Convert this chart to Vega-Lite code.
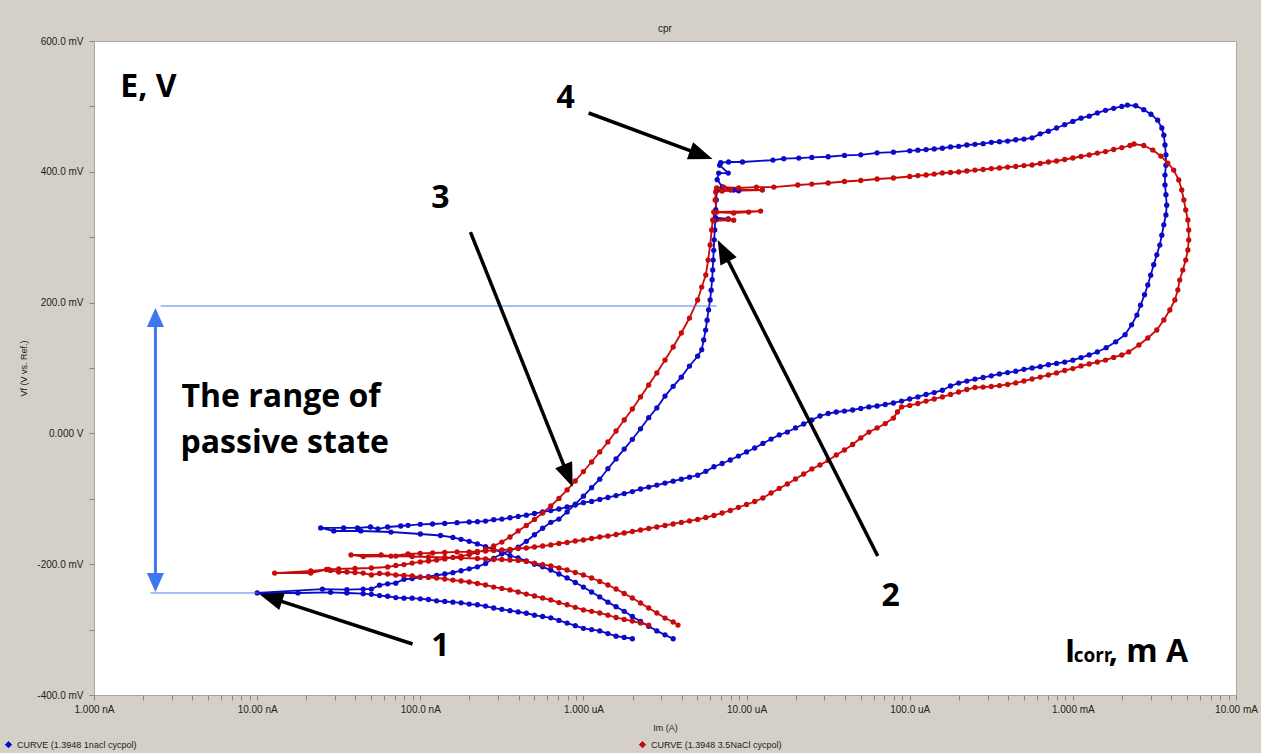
{
  "$schema": "https://vega.github.io/schema/vega-lite/v6.json",
  "width": 1142,
  "height": 654,
  "autosize": {"type": "none"},
  "padding": {"left": 94, "top": 41, "right": 25, "bottom": 58},
  "background": "#D4D0C8",
  "title": {"text": "cpr", "font": "Liberation Sans", "fontSize": 10, "fontWeight": "normal", "color": "#222222", "offset": 2},
  "config": {
    "view": {"fill": "#FFFFFF", "stroke": "#ABA79F", "strokeWidth": 1},
    "font": "Liberation Sans"
  },
  "datasets": {
    "curves": [
      {"s":"1nacl","I":1.995e-6,"E":-0.314},{"s":"1nacl","I":1.778e-6,"E":-0.312},{"s":"1nacl","I":1.585e-6,"E":-0.310},{"s":"1nacl","I":1.413e-6,"E":-0.306},{"s":"1nacl","I":1.259e-6,"E":-0.302},{"s":"1nacl","I":1.122e-6,"E":-0.300},{"s":"1nacl","I":1.0e-6,"E":-0.298},{"s":"1nacl","I":8.913e-7,"E":-0.294},{"s":"1nacl","I":7.943e-7,"E":-0.290},{"s":"1nacl","I":7.079e-7,"E":-0.286},{"s":"1nacl","I":6.31e-7,"E":-0.282},{"s":"1nacl","I":5.623e-7,"E":-0.280},{"s":"1nacl","I":5.012e-7,"E":-0.278},{"s":"1nacl","I":4.467e-7,"E":-0.275},{"s":"1nacl","I":3.981e-7,"E":-0.273},{"s":"1nacl","I":3.548e-7,"E":-0.271},{"s":"1nacl","I":3.162e-7,"E":-0.269},{"s":"1nacl","I":2.818e-7,"E":-0.267},{"s":"1nacl","I":2.512e-7,"E":-0.264},{"s":"1nacl","I":2.239e-7,"E":-0.262},{"s":"1nacl","I":1.995e-7,"E":-0.261},{"s":"1nacl","I":1.778e-7,"E":-0.259},{"s":"1nacl","I":1.585e-7,"E":-0.258},{"s":"1nacl","I":1.413e-7,"E":-0.257},{"s":"1nacl","I":1.259e-7,"E":-0.256},{"s":"1nacl","I":1.122e-7,"E":-0.254},{"s":"1nacl","I":1.0e-7,"E":-0.253},{"s":"1nacl","I":8.913e-8,"E":-0.252},{"s":"1nacl","I":7.943e-8,"E":-0.252},{"s":"1nacl","I":7.079e-8,"E":-0.251},{"s":"1nacl","I":6.31e-8,"E":-0.249},{"s":"1nacl","I":5.623e-8,"E":-0.248},{"s":"1nacl","I":5.012e-8,"E":-0.246},{"s":"1nacl","I":4.467e-8,"E":-0.245},{"s":"1nacl","I":3.548e-8,"E":-0.244},{"s":"1nacl","I":2.818e-8,"E":-0.243},{"s":"1nacl","I":1.778e-8,"E":-0.244},{"s":"1nacl","I":1.0e-8,"E":-0.244},
      {"s":"1nacl","I":2.512e-8,"E":-0.238},{"s":"1nacl","I":3.548e-8,"E":-0.239},{"s":"1nacl","I":4.467e-8,"E":-0.238},{"s":"1nacl","I":5.012e-8,"E":-0.238},{"s":"1nacl","I":5.623e-8,"E":-0.232},{"s":"1nacl","I":6.31e-8,"E":-0.230},{"s":"1nacl","I":7.079e-8,"E":-0.229},
      {"s":"1nacl","I":7.943e-8,"E":-0.223},{"s":"1nacl","I":8.913e-8,"E":-0.222},{"s":"1nacl","I":1.0e-7,"E":-0.220},{"s":"1nacl","I":1.122e-7,"E":-0.219},{"s":"1nacl","I":1.259e-7,"E":-0.217},{"s":"1nacl","I":1.413e-7,"E":-0.215},{"s":"1nacl","I":1.585e-7,"E":-0.213},{"s":"1nacl","I":1.778e-7,"E":-0.210},{"s":"1nacl","I":1.995e-7,"E":-0.207},{"s":"1nacl","I":2.239e-7,"E":-0.204},{"s":"1nacl","I":2.512e-7,"E":-0.199},{"s":"1nacl","I":2.818e-7,"E":-0.191},{"s":"1nacl","I":3.162e-7,"E":-0.184},{"s":"1nacl","I":3.548e-7,"E":-0.179},{"s":"1nacl","I":3.981e-7,"E":-0.174},{"s":"1nacl","I":4.467e-7,"E":-0.165},{"s":"1nacl","I":5.012e-7,"E":-0.155},{"s":"1nacl","I":5.623e-7,"E":-0.145},{"s":"1nacl","I":6.31e-7,"E":-0.136},{"s":"1nacl","I":7.079e-7,"E":-0.131},{"s":"1nacl","I":7.943e-7,"E":-0.120},{"s":"1nacl","I":8.913e-7,"E":-0.108},{"s":"1nacl","I":1.0e-6,"E":-0.096},{"s":"1nacl","I":1.122e-6,"E":-0.083},{"s":"1nacl","I":1.259e-6,"E":-0.070},{"s":"1nacl","I":1.413e-6,"E":-0.054},{"s":"1nacl","I":1.585e-6,"E":-0.039},{"s":"1nacl","I":1.778e-6,"E":-0.024},{"s":"1nacl","I":1.995e-6,"E":-0.009},{"s":"1nacl","I":2.239e-6,"E":0.007},{"s":"1nacl","I":2.512e-6,"E":0.024},{"s":"1nacl","I":2.818e-6,"E":0.039},{"s":"1nacl","I":3.162e-6,"E":0.057},{"s":"1nacl","I":3.548e-6,"E":0.072},{"s":"1nacl","I":3.981e-6,"E":0.086},{"s":"1nacl","I":4.467e-6,"E":0.103},{"s":"1nacl","I":5.012e-6,"E":0.118},
      {"s":"1nacl","I":5.31e-6,"E":0.128},{"s":"1nacl","I":5.46e-6,"E":0.143},{"s":"1nacl","I":5.61e-6,"E":0.158},{"s":"1nacl","I":5.73e-6,"E":0.173},{"s":"1nacl","I":5.85e-6,"E":0.189},{"s":"1nacl","I":5.98e-6,"E":0.204},{"s":"1nacl","I":6.07e-6,"E":0.219},{"s":"1nacl","I":6.15e-6,"E":0.235},{"s":"1nacl","I":6.2e-6,"E":0.250},{"s":"1nacl","I":6.24e-6,"E":0.265},{"s":"1nacl","I":6.29e-6,"E":0.280},{"s":"1nacl","I":6.33e-6,"E":0.296},{"s":"1nacl","I":6.38e-6,"E":0.311},{"s":"1nacl","I":6.42e-6,"E":0.326},{"s":"1nacl","I":7.72e-6,"E":0.328},{"s":"1nacl","I":6.45e-6,"E":0.330},{"s":"1nacl","I":6.47e-6,"E":0.342},{"s":"1nacl","I":6.52e-6,"E":0.357},{"s":"1nacl","I":6.56e-6,"E":0.372},{"s":"1nacl","I":8.34e-6,"E":0.372},{"s":"1nacl","I":8.94e-6,"E":0.371},{"s":"1nacl","I":7.1e-6,"E":0.377},{"s":"1nacl","I":6.61e-6,"E":0.388},{"s":"1nacl","I":6.75e-6,"E":0.398},{"s":"1nacl","I":7.72e-6,"E":0.398},{"s":"1nacl","I":6.84e-6,"E":0.410},{"s":"1nacl","I":6.94e-6,"E":0.414},
      {"s":"1nacl","I":7.76e-6,"E":0.415},{"s":"1nacl","I":9.44e-6,"E":0.415},{"s":"1nacl","I":1.45e-5,"E":0.418},{"s":"1nacl","I":1.69e-5,"E":0.420},{"s":"1nacl","I":2.09e-5,"E":0.421},{"s":"1nacl","I":2.512e-5,"E":0.422},{"s":"1nacl","I":3.162e-5,"E":0.423},{"s":"1nacl","I":3.981e-5,"E":0.425},{"s":"1nacl","I":5.012e-5,"E":0.426},{"s":"1nacl","I":6.31e-5,"E":0.429},{"s":"1nacl","I":7.943e-5,"E":0.430},{"s":"1nacl","I":1.0e-4,"E":0.432},{"s":"1nacl","I":1.122e-4,"E":0.433},{"s":"1nacl","I":1.259e-4,"E":0.434},{"s":"1nacl","I":1.413e-4,"E":0.435},{"s":"1nacl","I":1.585e-4,"E":0.436},{"s":"1nacl","I":1.778e-4,"E":0.438},{"s":"1nacl","I":1.995e-4,"E":0.439},{"s":"1nacl","I":2.239e-4,"E":0.441},{"s":"1nacl","I":2.512e-4,"E":0.442},{"s":"1nacl","I":2.818e-4,"E":0.443},{"s":"1nacl","I":3.162e-4,"E":0.445},{"s":"1nacl","I":3.548e-4,"E":0.446},{"s":"1nacl","I":3.981e-4,"E":0.447},{"s":"1nacl","I":4.467e-4,"E":0.449},{"s":"1nacl","I":5.012e-4,"E":0.450},{"s":"1nacl","I":5.623e-4,"E":0.452},{"s":"1nacl","I":6.31e-4,"E":0.458},{"s":"1nacl","I":7.079e-4,"E":0.462},{"s":"1nacl","I":7.943e-4,"E":0.467},{"s":"1nacl","I":8.913e-4,"E":0.472},{"s":"1nacl","I":1.0e-3,"E":0.477},{"s":"1nacl","I":1.122e-3,"E":0.482},{"s":"1nacl","I":1.259e-3,"E":0.485},{"s":"1nacl","I":1.413e-3,"E":0.490},{"s":"1nacl","I":1.585e-3,"E":0.494},{"s":"1nacl","I":1.778e-3,"E":0.497},{"s":"1nacl","I":1.995e-3,"E":0.500},{"s":"1nacl","I":2.16e-3,"E":0.502},
      {"s":"1nacl","I":2.43e-3,"E":0.501},{"s":"1nacl","I":2.72e-3,"E":0.495},{"s":"1nacl","I":3.01e-3,"E":0.488},{"s":"1nacl","I":3.31e-3,"E":0.479},{"s":"1nacl","I":3.51e-3,"E":0.467},{"s":"1nacl","I":3.61e-3,"E":0.456},{"s":"1nacl","I":3.67e-3,"E":0.441},{"s":"1nacl","I":3.72e-3,"E":0.426},{"s":"1nacl","I":3.72e-3,"E":0.410},{"s":"1nacl","I":3.67e-3,"E":0.395},{"s":"1nacl","I":3.67e-3,"E":0.380},{"s":"1nacl","I":3.72e-3,"E":0.365},{"s":"1nacl","I":3.76e-3,"E":0.349},{"s":"1nacl","I":3.72e-3,"E":0.334},{"s":"1nacl","I":3.61e-3,"E":0.319},{"s":"1nacl","I":3.51e-3,"E":0.303},{"s":"1nacl","I":3.41e-3,"E":0.288},{"s":"1nacl","I":3.27e-3,"E":0.273},{"s":"1nacl","I":3.13e-3,"E":0.258},{"s":"1nacl","I":3.0e-3,"E":0.242},{"s":"1nacl","I":2.88e-3,"E":0.227},{"s":"1nacl","I":2.75e-3,"E":0.212},{"s":"1nacl","I":2.6e-3,"E":0.196},{"s":"1nacl","I":2.47e-3,"E":0.181},{"s":"1nacl","I":2.29e-3,"E":0.166},{"s":"1nacl","I":2.09e-3,"E":0.151},{"s":"1nacl","I":1.83e-3,"E":0.140},{"s":"1nacl","I":1.6e-3,"E":0.131},
      {"s":"1nacl","I":1.413e-3,"E":0.1245},{"s":"1nacl","I":1.259e-3,"E":0.120},{"s":"1nacl","I":1.122e-3,"E":0.116},{"s":"1nacl","I":1.0e-3,"E":0.112},{"s":"1nacl","I":8.913e-4,"E":0.109},{"s":"1nacl","I":7.943e-4,"E":0.107},{"s":"1nacl","I":7.079e-4,"E":0.105},{"s":"1nacl","I":6.31e-4,"E":0.102},{"s":"1nacl","I":5.623e-4,"E":0.100},{"s":"1nacl","I":5.012e-4,"E":0.098},{"s":"1nacl","I":4.467e-4,"E":0.095},{"s":"1nacl","I":3.981e-4,"E":0.093},{"s":"1nacl","I":3.548e-4,"E":0.091},{"s":"1nacl","I":3.162e-4,"E":0.088},{"s":"1nacl","I":2.818e-4,"E":0.0855},{"s":"1nacl","I":2.512e-4,"E":0.083},{"s":"1nacl","I":2.239e-4,"E":0.080},{"s":"1nacl","I":1.995e-4,"E":0.077},{"s":"1nacl","I":1.778e-4,"E":0.0725},{"s":"1nacl","I":1.585e-4,"E":0.066},{"s":"1nacl","I":1.413e-4,"E":0.0625},{"s":"1nacl","I":1.259e-4,"E":0.0595},{"s":"1nacl","I":1.122e-4,"E":0.0557},{"s":"1nacl","I":1.0e-4,"E":0.0526},{"s":"1nacl","I":8.913e-5,"E":0.0495},{"s":"1nacl","I":7.943e-5,"E":0.0465},{"s":"1nacl","I":7.079e-5,"E":0.0442},{"s":"1nacl","I":6.31e-5,"E":0.0419},{"s":"1nacl","I":5.623e-5,"E":0.0404},{"s":"1nacl","I":5.012e-5,"E":0.0381},{"s":"1nacl","I":4.467e-5,"E":0.0358},{"s":"1nacl","I":3.981e-5,"E":0.0342},{"s":"1nacl","I":3.548e-5,"E":0.0327},{"s":"1nacl","I":3.162e-5,"E":0.0304},{"s":"1nacl","I":2.818e-5,"E":0.0266},{"s":"1nacl","I":2.512e-5,"E":0.0205},{"s":"1nacl","I":2.239e-5,"E":0.0144},{"s":"1nacl","I":1.995e-5,"E":0.0083},{"s":"1nacl","I":1.778e-5,"E":0.0021},{"s":"1nacl","I":1.585e-5,"E":-0.0024},{"s":"1nacl","I":1.413e-5,"E":-0.0086},{"s":"1nacl","I":1.259e-5,"E":-0.0154},{"s":"1nacl","I":1.122e-5,"E":-0.0223},{"s":"1nacl","I":1.0e-5,"E":-0.0284},{"s":"1nacl","I":8.913e-6,"E":-0.0346},{"s":"1nacl","I":7.943e-6,"E":-0.0407},{"s":"1nacl","I":7.079e-6,"E":-0.046},{"s":"1nacl","I":6.31e-6,"E":-0.051},{"s":"1nacl","I":5.623e-6,"E":-0.058},{"s":"1nacl","I":5.012e-6,"E":-0.064},{"s":"1nacl","I":4.467e-6,"E":-0.067},{"s":"1nacl","I":3.981e-6,"E":-0.070},{"s":"1nacl","I":3.548e-6,"E":-0.073},{"s":"1nacl","I":3.162e-6,"E":-0.076},{"s":"1nacl","I":2.818e-6,"E":-0.079},{"s":"1nacl","I":2.512e-6,"E":-0.082},{"s":"1nacl","I":2.239e-6,"E":-0.085},{"s":"1nacl","I":1.995e-6,"E":-0.089},{"s":"1nacl","I":1.778e-6,"E":-0.092},{"s":"1nacl","I":1.585e-6,"E":-0.095},{"s":"1nacl","I":1.413e-6,"E":-0.098},{"s":"1nacl","I":1.259e-6,"E":-0.101},{"s":"1nacl","I":1.122e-6,"E":-0.104},{"s":"1nacl","I":1.0e-6,"E":-0.106},{"s":"1nacl","I":8.913e-7,"E":-0.1095},{"s":"1nacl","I":7.943e-7,"E":-0.1125},{"s":"1nacl","I":7.079e-7,"E":-0.1156},{"s":"1nacl","I":6.31e-7,"E":-0.118},{"s":"1nacl","I":5.623e-7,"E":-0.120},{"s":"1nacl","I":5.012e-7,"E":-0.1225},{"s":"1nacl","I":4.467e-7,"E":-0.125},{"s":"1nacl","I":3.981e-7,"E":-0.127},{"s":"1nacl","I":3.548e-7,"E":-0.129},{"s":"1nacl","I":3.162e-7,"E":-0.131},{"s":"1nacl","I":2.818e-7,"E":-0.132},{"s":"1nacl","I":2.512e-7,"E":-0.134},{"s":"1nacl","I":2.239e-7,"E":-0.135},{"s":"1nacl","I":1.995e-7,"E":-0.1355},{"s":"1nacl","I":1.679e-7,"E":-0.1365},{"s":"1nacl","I":1.413e-7,"E":-0.1377},{"s":"1nacl","I":1.189e-7,"E":-0.1385},{"s":"1nacl","I":1.0e-7,"E":-0.139},{"s":"1nacl","I":8.41e-8,"E":-0.1405},{"s":"1nacl","I":7.59e-8,"E":-0.1416},{"s":"1nacl","I":6.31e-8,"E":-0.1431},{"s":"1nacl","I":5.5e-8,"E":-0.1462},{"s":"1nacl","I":4.95e-8,"E":-0.1431},{"s":"1nacl","I":4.12e-8,"E":-0.1446},{"s":"1nacl","I":3.39e-8,"E":-0.1446},{"s":"1nacl","I":2.45e-8,"E":-0.1446},
      {"s":"1nacl","I":2.95e-8,"E":-0.1492},{"s":"1nacl","I":4.32e-8,"E":-0.1492},{"s":"1nacl","I":6.61e-8,"E":-0.1508},{"s":"1nacl","I":1.0e-7,"E":-0.1538},{"s":"1nacl","I":1.33e-7,"E":-0.1561},{"s":"1nacl","I":1.585e-7,"E":-0.159},{"s":"1nacl","I":1.778e-7,"E":-0.162},{"s":"1nacl","I":1.995e-7,"E":-0.165},{"s":"1nacl","I":2.239e-7,"E":-0.169},{"s":"1nacl","I":2.512e-7,"E":-0.173},{"s":"1nacl","I":2.818e-7,"E":-0.1775},{"s":"1nacl","I":3.162e-7,"E":-0.182},{"s":"1nacl","I":3.548e-7,"E":-0.187},{"s":"1nacl","I":3.981e-7,"E":-0.1905},{"s":"1nacl","I":4.467e-7,"E":-0.195},{"s":"1nacl","I":5.012e-7,"E":-0.200},{"s":"1nacl","I":5.623e-7,"E":-0.204},{"s":"1nacl","I":6.31e-7,"E":-0.209},{"s":"1nacl","I":7.079e-7,"E":-0.215},{"s":"1nacl","I":7.943e-7,"E":-0.221},{"s":"1nacl","I":8.913e-7,"E":-0.228},{"s":"1nacl","I":1.0e-6,"E":-0.235},{"s":"1nacl","I":1.122e-6,"E":-0.2425},{"s":"1nacl","I":1.259e-6,"E":-0.250},{"s":"1nacl","I":1.413e-6,"E":-0.258},{"s":"1nacl","I":1.585e-6,"E":-0.265},{"s":"1nacl","I":1.778e-6,"E":-0.272},{"s":"1nacl","I":1.995e-6,"E":-0.280},{"s":"1nacl","I":2.239e-6,"E":-0.2876},{"s":"1nacl","I":2.512e-6,"E":-0.295},{"s":"1nacl","I":2.818e-6,"E":-0.302},{"s":"1nacl","I":3.162e-6,"E":-0.308},{"s":"1nacl","I":3.548e-6,"E":-0.314},

      {"s":"3.5NaCl","I":2.512e-6,"E":-0.293},{"s":"3.5NaCl","I":2.239e-6,"E":-0.290},{"s":"3.5NaCl","I":1.995e-6,"E":-0.287},{"s":"3.5NaCl","I":1.778e-6,"E":-0.2845},{"s":"3.5NaCl","I":1.585e-6,"E":-0.2815},{"s":"3.5NaCl","I":1.413e-6,"E":-0.278},{"s":"3.5NaCl","I":1.259e-6,"E":-0.2746},{"s":"3.5NaCl","I":1.122e-6,"E":-0.272},{"s":"3.5NaCl","I":1.0e-6,"E":-0.270},{"s":"3.5NaCl","I":8.913e-7,"E":-0.266},{"s":"3.5NaCl","I":7.943e-7,"E":-0.262},{"s":"3.5NaCl","I":7.079e-7,"E":-0.2586},{"s":"3.5NaCl","I":6.31e-7,"E":-0.2547},{"s":"3.5NaCl","I":5.623e-7,"E":-0.2517},{"s":"3.5NaCl","I":5.012e-7,"E":-0.2486},{"s":"3.5NaCl","I":4.467e-7,"E":-0.2456},{"s":"3.5NaCl","I":3.981e-7,"E":-0.2425},{"s":"3.5NaCl","I":3.548e-7,"E":-0.2394},{"s":"3.5NaCl","I":3.162e-7,"E":-0.2371},{"s":"3.5NaCl","I":2.818e-7,"E":-0.2349},{"s":"3.5NaCl","I":2.512e-7,"E":-0.2318},{"s":"3.5NaCl","I":2.239e-7,"E":-0.2295},{"s":"3.5NaCl","I":1.995e-7,"E":-0.2272},{"s":"3.5NaCl","I":1.778e-7,"E":-0.2257},{"s":"3.5NaCl","I":1.585e-7,"E":-0.2242},{"s":"3.5NaCl","I":1.413e-7,"E":-0.2226},{"s":"3.5NaCl","I":1.259e-7,"E":-0.2211},{"s":"3.5NaCl","I":1.122e-7,"E":-0.2203},{"s":"3.5NaCl","I":1.0e-7,"E":-0.2196},{"s":"3.5NaCl","I":8.913e-8,"E":-0.218},{"s":"3.5NaCl","I":7.943e-8,"E":-0.2173},{"s":"3.5NaCl","I":7.079e-8,"E":-0.2165},{"s":"3.5NaCl","I":6.31e-8,"E":-0.215},{"s":"3.5NaCl","I":5.623e-8,"E":-0.2142},{"s":"3.5NaCl","I":5.012e-8,"E":-0.2165},{"s":"3.5NaCl","I":4.467e-8,"E":-0.2135},{"s":"3.5NaCl","I":3.981e-8,"E":-0.2127},{"s":"3.5NaCl","I":3.548e-8,"E":-0.2119},{"s":"3.5NaCl","I":3.162e-8,"E":-0.2119},{"s":"3.5NaCl","I":2.818e-8,"E":-0.2096},{"s":"3.5NaCl","I":2.66e-8,"E":-0.2081},{"s":"3.5NaCl","I":2.13e-8,"E":-0.2135},{"s":"3.5NaCl","I":1.28e-8,"E":-0.2135},{"s":"3.5NaCl","I":2.13e-8,"E":-0.2104},{"s":"3.5NaCl","I":2.74e-8,"E":-0.2081},
      {"s":"3.5NaCl","I":3.162e-8,"E":-0.2073},{"s":"3.5NaCl","I":3.981e-8,"E":-0.2066},{"s":"3.5NaCl","I":5.012e-8,"E":-0.2058},{"s":"3.5NaCl","I":6.31e-8,"E":-0.2043},{"s":"3.5NaCl","I":7.079e-8,"E":-0.202},{"s":"3.5NaCl","I":7.943e-8,"E":-0.2005},{"s":"3.5NaCl","I":8.913e-8,"E":-0.1982},{"s":"3.5NaCl","I":1.0e-7,"E":-0.1966},{"s":"3.5NaCl","I":1.122e-7,"E":-0.1951},{"s":"3.5NaCl","I":1.259e-7,"E":-0.1936},{"s":"3.5NaCl","I":1.413e-7,"E":-0.192},{"s":"3.5NaCl","I":1.585e-7,"E":-0.1897},{"s":"3.5NaCl","I":1.778e-7,"E":-0.1875},{"s":"3.5NaCl","I":1.995e-7,"E":-0.1852},{"s":"3.5NaCl","I":2.239e-7,"E":-0.1821},{"s":"3.5NaCl","I":2.512e-7,"E":-0.1775},{"s":"3.5NaCl","I":2.818e-7,"E":-0.1722},{"s":"3.5NaCl","I":3.162e-7,"E":-0.1661},{"s":"3.5NaCl","I":3.548e-7,"E":-0.1584},{"s":"3.5NaCl","I":3.981e-7,"E":-0.1492},{"s":"3.5NaCl","I":4.467e-7,"E":-0.1408},{"s":"3.5NaCl","I":5.012e-7,"E":-0.1316},{"s":"3.5NaCl","I":5.623e-7,"E":-0.1217},{"s":"3.5NaCl","I":6.31e-7,"E":-0.111},{"s":"3.5NaCl","I":7.079e-7,"E":-0.0995},{"s":"3.5NaCl","I":7.943e-7,"E":-0.0865},{"s":"3.5NaCl","I":8.913e-7,"E":-0.0728},{"s":"3.5NaCl","I":1.0e-6,"E":-0.0583},{"s":"3.5NaCl","I":1.122e-6,"E":-0.0437},{"s":"3.5NaCl","I":1.259e-6,"E":-0.0284},{"s":"3.5NaCl","I":1.413e-6,"E":-0.0131},{"s":"3.5NaCl","I":1.585e-6,"E":0.0037},{"s":"3.5NaCl","I":1.778e-6,"E":0.0205},{"s":"3.5NaCl","I":1.995e-6,"E":0.0373},{"s":"3.5NaCl","I":2.239e-6,"E":0.0557},{"s":"3.5NaCl","I":2.512e-6,"E":0.074},{"s":"3.5NaCl","I":2.818e-6,"E":0.0924},{"s":"3.5NaCl","I":3.162e-6,"E":0.1122},{"s":"3.5NaCl","I":3.548e-6,"E":0.1321},{"s":"3.5NaCl","I":3.981e-6,"E":0.1535},{"s":"3.5NaCl","I":4.467e-6,"E":0.1764},{"s":"3.5NaCl","I":5.012e-6,"E":0.204},{"s":"3.5NaCl","I":5.31e-6,"E":0.2238},{"s":"3.5NaCl","I":5.623e-6,"E":0.2422},{"s":"3.5NaCl","I":5.81e-6,"E":0.2651},{"s":"3.5NaCl","I":5.98e-6,"E":0.2881},{"s":"3.5NaCl","I":6.11e-6,"E":0.311},{"s":"3.5NaCl","I":6.2e-6,"E":0.3263},{"s":"3.5NaCl","I":7.72e-6,"E":0.3275},{"s":"3.5NaCl","I":8.34e-6,"E":0.326},{"s":"3.5NaCl","I":6.29e-6,"E":0.325},{"s":"3.5NaCl","I":6.29e-6,"E":0.3385},{"s":"3.5NaCl","I":8.34e-6,"E":0.337},{"s":"3.5NaCl","I":1.03e-5,"E":0.3385},{"s":"3.5NaCl","I":1.22e-5,"E":0.340},{"s":"3.5NaCl","I":6.56e-6,"E":0.3385},{"s":"3.5NaCl","I":6.42e-6,"E":0.357},{"s":"3.5NaCl","I":6.47e-6,"E":0.3691},{"s":"3.5NaCl","I":7.99e-6,"E":0.3722},{"s":"3.5NaCl","I":1.25e-5,"E":0.3722},{"s":"3.5NaCl","I":7.08e-6,"E":0.3706},{"s":"3.5NaCl","I":6.56e-6,"E":0.3752},
      {"s":"3.5NaCl","I":7.24e-6,"E":0.3767},{"s":"3.5NaCl","I":8.94e-6,"E":0.3752},{"s":"3.5NaCl","I":1.15e-5,"E":0.3767},{"s":"3.5NaCl","I":1.47e-5,"E":0.3767},{"s":"3.5NaCl","I":2.06e-5,"E":0.3798},{"s":"3.5NaCl","I":2.512e-5,"E":0.3813},{"s":"3.5NaCl","I":3.162e-5,"E":0.3829},{"s":"3.5NaCl","I":3.981e-5,"E":0.3852},{"s":"3.5NaCl","I":5.012e-5,"E":0.3867},{"s":"3.5NaCl","I":6.31e-5,"E":0.389},{"s":"3.5NaCl","I":7.943e-5,"E":0.3905},{"s":"3.5NaCl","I":1.0e-4,"E":0.3928},{"s":"3.5NaCl","I":1.122e-4,"E":0.3943},{"s":"3.5NaCl","I":1.259e-4,"E":0.3951},{"s":"3.5NaCl","I":1.413e-4,"E":0.3966},{"s":"3.5NaCl","I":1.585e-4,"E":0.3982},{"s":"3.5NaCl","I":1.778e-4,"E":0.3989},{"s":"3.5NaCl","I":1.995e-4,"E":0.3997},{"s":"3.5NaCl","I":2.239e-4,"E":0.4012},{"s":"3.5NaCl","I":2.512e-4,"E":0.4027},{"s":"3.5NaCl","I":2.818e-4,"E":0.4035},{"s":"3.5NaCl","I":3.162e-4,"E":0.405},{"s":"3.5NaCl","I":3.548e-4,"E":0.4058},{"s":"3.5NaCl","I":3.981e-4,"E":0.4073},{"s":"3.5NaCl","I":4.467e-4,"E":0.4081},{"s":"3.5NaCl","I":5.012e-4,"E":0.4096},{"s":"3.5NaCl","I":5.623e-4,"E":0.4104},{"s":"3.5NaCl","I":6.31e-4,"E":0.4127},{"s":"3.5NaCl","I":7.079e-4,"E":0.415},{"s":"3.5NaCl","I":7.943e-4,"E":0.4165},{"s":"3.5NaCl","I":8.913e-4,"E":0.4188},{"s":"3.5NaCl","I":1.0e-3,"E":0.4211},{"s":"3.5NaCl","I":1.122e-3,"E":0.4234},{"s":"3.5NaCl","I":1.259e-3,"E":0.4257},{"s":"3.5NaCl","I":1.413e-3,"E":0.4287},{"s":"3.5NaCl","I":1.585e-3,"E":0.431},{"s":"3.5NaCl","I":1.778e-3,"E":0.4341},{"s":"3.5NaCl","I":1.995e-3,"E":0.4371},{"s":"3.5NaCl","I":2.239e-3,"E":0.4402},{"s":"3.5NaCl","I":2.37e-3,"E":0.4425},
      {"s":"3.5NaCl","I":2.72e-3,"E":0.4402},{"s":"3.5NaCl","I":3.09e-3,"E":0.4333},{"s":"3.5NaCl","I":3.46e-3,"E":0.4241},{"s":"3.5NaCl","I":3.82e-3,"E":0.4134},{"s":"3.5NaCl","I":4.15e-3,"E":0.4027},{"s":"3.5NaCl","I":4.46e-3,"E":0.3875},{"s":"3.5NaCl","I":4.65e-3,"E":0.3722},{"s":"3.5NaCl","I":4.79e-3,"E":0.3569},{"s":"3.5NaCl","I":4.92e-3,"E":0.3416},{"s":"3.5NaCl","I":5.07e-3,"E":0.3263},{"s":"3.5NaCl","I":5.13e-3,"E":0.311},{"s":"3.5NaCl","I":5.13e-3,"E":0.2957},{"s":"3.5NaCl","I":5.07e-3,"E":0.2804},{"s":"3.5NaCl","I":4.92e-3,"E":0.2651},{"s":"3.5NaCl","I":4.72e-3,"E":0.2498},{"s":"3.5NaCl","I":4.52e-3,"E":0.2345},{"s":"3.5NaCl","I":4.4e-3,"E":0.2193},{"s":"3.5NaCl","I":4.22e-3,"E":0.204},{"s":"3.5NaCl","I":3.93e-3,"E":0.1887},{"s":"3.5NaCl","I":3.61e-3,"E":0.1734},{"s":"3.5NaCl","I":3.27e-3,"E":0.1581},{"s":"3.5NaCl","I":2.88e-3,"E":0.1459},{"s":"3.5NaCl","I":2.54e-3,"E":0.1352},{"s":"3.5NaCl","I":2.2e-3,"E":0.1245},
      {"s":"3.5NaCl","I":1.995e-3,"E":0.1199},{"s":"3.5NaCl","I":1.778e-3,"E":0.1161},{"s":"3.5NaCl","I":1.585e-3,"E":0.1122},{"s":"3.5NaCl","I":1.413e-3,"E":0.1092},{"s":"3.5NaCl","I":1.259e-3,"E":0.1061},{"s":"3.5NaCl","I":1.122e-3,"E":0.1031},{"s":"3.5NaCl","I":1.0e-3,"E":0.0992},{"s":"3.5NaCl","I":8.913e-4,"E":0.0962},{"s":"3.5NaCl","I":7.943e-4,"E":0.0924},{"s":"3.5NaCl","I":7.079e-4,"E":0.0893},{"s":"3.5NaCl","I":6.31e-4,"E":0.0862},{"s":"3.5NaCl","I":5.623e-4,"E":0.0832},{"s":"3.5NaCl","I":5.012e-4,"E":0.0801},{"s":"3.5NaCl","I":4.467e-4,"E":0.0771},{"s":"3.5NaCl","I":3.981e-4,"E":0.0748},{"s":"3.5NaCl","I":3.548e-4,"E":0.0732},{"s":"3.5NaCl","I":3.162e-4,"E":0.0717},{"s":"3.5NaCl","I":2.818e-4,"E":0.0709},{"s":"3.5NaCl","I":2.512e-4,"E":0.0702},{"s":"3.5NaCl","I":2.239e-4,"E":0.0671},{"s":"3.5NaCl","I":1.995e-4,"E":0.0633},{"s":"3.5NaCl","I":1.778e-4,"E":0.0595},{"s":"3.5NaCl","I":1.585e-4,"E":0.0557},{"s":"3.5NaCl","I":1.413e-4,"E":0.0526},{"s":"3.5NaCl","I":1.259e-4,"E":0.0495},{"s":"3.5NaCl","I":1.122e-4,"E":0.0457},{"s":"3.5NaCl","I":1.0e-4,"E":0.0427},{"s":"3.5NaCl","I":8.913e-5,"E":0.0404},{"s":"3.5NaCl","I":8.41e-5,"E":0.0327},{"s":"3.5NaCl","I":7.943e-5,"E":0.0235},{"s":"3.5NaCl","I":7.079e-5,"E":0.0151},{"s":"3.5NaCl","I":6.31e-5,"E":0.0083},{"s":"3.5NaCl","I":5.623e-5,"E":0.0021},{"s":"3.5NaCl","I":5.012e-5,"E":-0.007},{"s":"3.5NaCl","I":4.467e-5,"E":-0.017},{"s":"3.5NaCl","I":3.981e-5,"E":-0.0254},{"s":"3.5NaCl","I":3.548e-5,"E":-0.033},{"s":"3.5NaCl","I":3.162e-5,"E":-0.0414},{"s":"3.5NaCl","I":2.818e-5,"E":-0.0483},{"s":"3.5NaCl","I":2.512e-5,"E":-0.0544},{"s":"3.5NaCl","I":2.239e-5,"E":-0.0621},{"s":"3.5NaCl","I":1.995e-5,"E":-0.0697},{"s":"3.5NaCl","I":1.778e-5,"E":-0.0774},{"s":"3.5NaCl","I":1.585e-5,"E":-0.0842},{"s":"3.5NaCl","I":1.413e-5,"E":-0.0911},{"s":"3.5NaCl","I":1.259e-5,"E":-0.0988},{"s":"3.5NaCl","I":1.122e-5,"E":-0.1041},{"s":"3.5NaCl","I":1.0e-5,"E":-0.1087},{"s":"3.5NaCl","I":8.913e-6,"E":-0.1133},{"s":"3.5NaCl","I":7.943e-6,"E":-0.1179},{"s":"3.5NaCl","I":7.079e-6,"E":-0.1217},{"s":"3.5NaCl","I":6.31e-6,"E":-0.1255},{"s":"3.5NaCl","I":5.623e-6,"E":-0.1286},{"s":"3.5NaCl","I":5.012e-6,"E":-0.1316},{"s":"3.5NaCl","I":4.467e-6,"E":-0.1339},{"s":"3.5NaCl","I":3.981e-6,"E":-0.1362},{"s":"3.5NaCl","I":3.548e-6,"E":-0.1385},{"s":"3.5NaCl","I":3.162e-6,"E":-0.1408},{"s":"3.5NaCl","I":2.818e-6,"E":-0.1431},{"s":"3.5NaCl","I":2.512e-6,"E":-0.1454},{"s":"3.5NaCl","I":2.239e-6,"E":-0.1477},{"s":"3.5NaCl","I":1.995e-6,"E":-0.15},{"s":"3.5NaCl","I":1.778e-6,"E":-0.1523},{"s":"3.5NaCl","I":1.585e-6,"E":-0.1546},{"s":"3.5NaCl","I":1.413e-6,"E":-0.1569},{"s":"3.5NaCl","I":1.259e-6,"E":-0.1584},{"s":"3.5NaCl","I":1.122e-6,"E":-0.1607},{"s":"3.5NaCl","I":1.0e-6,"E":-0.163},{"s":"3.5NaCl","I":8.913e-7,"E":-0.1645},{"s":"3.5NaCl","I":7.943e-7,"E":-0.1668},{"s":"3.5NaCl","I":7.079e-7,"E":-0.1683},{"s":"3.5NaCl","I":6.31e-7,"E":-0.1706},{"s":"3.5NaCl","I":5.623e-7,"E":-0.1722},{"s":"3.5NaCl","I":5.012e-7,"E":-0.1737},{"s":"3.5NaCl","I":4.467e-7,"E":-0.1752},{"s":"3.5NaCl","I":3.981e-7,"E":-0.176},{"s":"3.5NaCl","I":3.548e-7,"E":-0.1775},{"s":"3.5NaCl","I":3.162e-7,"E":-0.1783},{"s":"3.5NaCl","I":2.818e-7,"E":-0.179},{"s":"3.5NaCl","I":2.512e-7,"E":-0.1798},{"s":"3.5NaCl","I":2.239e-7,"E":-0.1806},{"s":"3.5NaCl","I":1.995e-7,"E":-0.1813},{"s":"3.5NaCl","I":1.68e-7,"E":-0.1813},{"s":"3.5NaCl","I":1.413e-7,"E":-0.1821},{"s":"3.5NaCl","I":1.19e-7,"E":-0.1829},{"s":"3.5NaCl","I":1.0e-7,"E":-0.1836},{"s":"3.5NaCl","I":8.41e-8,"E":-0.1844},{"s":"3.5NaCl","I":6.61e-8,"E":-0.1875},{"s":"3.5NaCl","I":5.75e-8,"E":-0.1859},{"s":"3.5NaCl","I":3.76e-8,"E":-0.1859},
      {"s":"3.5NaCl","I":4.467e-8,"E":-0.1882},{"s":"3.5NaCl","I":7.079e-8,"E":-0.1875},{"s":"3.5NaCl","I":8.913e-8,"E":-0.1882},{"s":"3.5NaCl","I":1.122e-7,"E":-0.189},{"s":"3.5NaCl","I":1.413e-7,"E":-0.1897},{"s":"3.5NaCl","I":1.778e-7,"E":-0.1905},{"s":"3.5NaCl","I":2.239e-7,"E":-0.1913},{"s":"3.5NaCl","I":2.512e-7,"E":-0.192},{"s":"3.5NaCl","I":2.818e-7,"E":-0.1928},{"s":"3.5NaCl","I":3.162e-7,"E":-0.1928},{"s":"3.5NaCl","I":3.548e-7,"E":-0.1936},{"s":"3.5NaCl","I":3.981e-7,"E":-0.1943},{"s":"3.5NaCl","I":4.467e-7,"E":-0.1958},{"s":"3.5NaCl","I":5.012e-7,"E":-0.1982},{"s":"3.5NaCl","I":5.623e-7,"E":-0.2005},{"s":"3.5NaCl","I":6.31e-7,"E":-0.2027},{"s":"3.5NaCl","I":7.079e-7,"E":-0.2058},{"s":"3.5NaCl","I":7.943e-7,"E":-0.2089},{"s":"3.5NaCl","I":8.913e-7,"E":-0.2127},{"s":"3.5NaCl","I":1.0e-6,"E":-0.2165},{"s":"3.5NaCl","I":1.122e-6,"E":-0.2211},{"s":"3.5NaCl","I":1.259e-6,"E":-0.2264},{"s":"3.5NaCl","I":1.413e-6,"E":-0.2318},{"s":"3.5NaCl","I":1.585e-6,"E":-0.2379},{"s":"3.5NaCl","I":1.778e-6,"E":-0.2448},{"s":"3.5NaCl","I":1.995e-6,"E":-0.2517},{"s":"3.5NaCl","I":2.239e-6,"E":-0.2593},{"s":"3.5NaCl","I":2.512e-6,"E":-0.267},{"s":"3.5NaCl","I":2.818e-6,"E":-0.2746},{"s":"3.5NaCl","I":3.162e-6,"E":-0.2823},{"s":"3.5NaCl","I":3.548e-6,"E":-0.2884},{"s":"3.5NaCl","I":3.8e-6,"E":-0.293}
    ],
    "guides": [
      {"I":2.56e-9,"E":0.1948,"I2":6.56e-6,"E2":0.1948},
      {"I":2.22e-9,"E":-0.244,"I2":1.02e-8,"E2":-0.244}
    ],
    "arrows": [
      {"k":"1","I":8.97e-8,"E":-0.322,"I2":1.2e-8,"E2":-0.2512,"It":1.03e-8,"Et":-0.2456},
      {"k":"2","I":6.37e-5,"E":-0.1875,"I2":7.18e-6,"E2":0.2793,"It":6.65e-6,"Et":0.2957},
      {"k":"3","I":2.03e-7,"E":0.3079,"I2":8.05e-7,"E2":-0.065,"It":8.59e-7,"Et":-0.082},
      {"k":"4","I":1.076e-6,"E":0.4899,"I2":5.29e-6,"E2":0.426,"It":6.19e-6,"Et":0.4196}
    ]
  },
  "layer": [
    {
      "data": {"name": "curves"},
      "mark": {"type": "line", "strokeWidth": 1.8, "point": {"filled": true, "size": 28, "opacity": 1}},
      "encoding": {
        "x": {
          "field": "I", "type": "quantitative",
          "scale": {"type": "log", "domain": [1e-9, 1e-2], "nice": false},
          "axis": {
            "title": "Im (A)",
            "values": [1e-9,2e-9,3e-9,4e-9,5e-9,6e-9,7e-9,8e-9,9e-9,1e-8,2e-8,3e-8,4e-8,5e-8,6e-8,7e-8,8e-8,9e-8,1e-7,2e-7,3e-7,4e-7,5e-7,6e-7,7e-7,8e-7,9e-7,1e-6,2e-6,3e-6,4e-6,5e-6,6e-6,7e-6,8e-6,9e-6,1e-5,2e-5,3e-5,4e-5,5e-5,6e-5,7e-5,8e-5,9e-5,1e-4,2e-4,3e-4,4e-4,5e-4,6e-4,7e-4,8e-4,9e-4,1e-3,2e-3,3e-3,4e-3,5e-3,6e-3,7e-3,8e-3,9e-3,1e-2],
            "labelExpr": "abs(log(datum.value)/LN10 - round(log(datum.value)/LN10)) < 0.01 ? ['1.000 nA','10.00 nA','100.0 nA','1.000 uA','10.00 uA','100.0 uA','1.000 mA','10.00 mA'][round(log(datum.value)/LN10) + 9] : ''",
            "grid": false, "domain": false,
            "tickSize": 5, "tickColor": "#8A8780", "tickWidth": 1,
            "labelFont": "Liberation Sans", "labelFontSize": 10, "labelColor": "#222222",
            "labelPadding": 4, "labelFlush": false, "labelOverlap": false, "labelBound": false,
            "titleFont": "Liberation Sans", "titleFontSize": 9, "titleFontWeight": "normal", "titleColor": "#222222", "titlePadding": 9
          }
        },
        "y": {
          "field": "E", "type": "quantitative",
          "scale": {"domain": [-0.4, 0.6], "nice": false, "zero": false},
          "axis": {
            "title": "Vf (V vs. Ref.)",
            "values": [-0.4,-0.35,-0.3,-0.25,-0.2,-0.15,-0.1,-0.05,0,0.05,0.1,0.15,0.2,0.25,0.3,0.35,0.4,0.45,0.5,0.55,0.6],
            "labelExpr": "round(datum.value*1000) % 200 != 0 ? '' : (round(datum.value*1000) == 0 ? '0.000 V' : (datum.value < 0 ? '-' : '') + format(abs(round(datum.value*1000)), '.1f') + ' mV')",
            "grid": false, "domain": false,
            "tickSize": 5, "tickColor": "#8A8780", "tickWidth": 1,
            "labelFont": "Liberation Sans", "labelFontSize": 10, "labelColor": "#222222",
            "labelPadding": 6, "labelFlush": false, "labelOverlap": false, "labelBound": false,
            "titleFont": "Liberation Sans", "titleFontSize": 9, "titleFontWeight": "normal", "titleColor": "#222222", "titlePadding": 8
          }
        },
        "color": {
          "field": "s", "type": "nominal",
          "scale": {"domain": ["1nacl", "3.5NaCl"], "range": ["#0A0AC8", "#C80A0A"]},
          "legend": {
            "orient": "none", "legendX": -90, "legendY": 699,
            "direction": "horizontal", "title": null,
            "symbolType": "diamond", "symbolSize": 40, "symbolStrokeWidth": 1,
            "labelFont": "Liberation Sans", "labelFontSize": 9, "labelColor": "#222222",
            "columnPadding": 500, "labelOffset": 4,
            "labelExpr": "'CURVE (1.3948 ' + datum.label + ' cycpol)'"
          }
        },
        "order": {"value": null}
      }
    },
    {
      "data": {"name": "guides"},
      "mark": {"type": "rule", "color": "#4A7EF0", "strokeWidth": 1},
      "encoding": {
        "x": {"field": "I", "type": "quantitative"},
        "x2": {"field": "I2"},
        "y": {"field": "E", "type": "quantitative"},
        "y2": {"field": "E2"}
      }
    },
    {
      "data": {"values": [{"I": 2.38e-9, "E": 0.1734, "E2": -0.2242}]},
      "mark": {"type": "rule", "color": "#3D78F2", "strokeWidth": 3},
      "encoding": {
        "x": {"field": "I", "type": "quantitative"},
        "y": {"field": "E", "type": "quantitative"},
        "y2": {"field": "E2"}
      }
    },
    {
      "data": {"values": [{"I": 2.38e-9, "E": 0.1917}]},
      "mark": {"type": "point", "shape": "M0,0L-0.45,1L0.45,1Z", "size": 1444, "filled": true, "color": "#3D78F2", "opacity": 1, "angle": 0},
      "encoding": {
        "x": {"field": "I", "type": "quantitative"},
        "y": {"field": "E", "type": "quantitative"}
      }
    },
    {
      "data": {"values": [{"I": 2.38e-9, "E": -0.2425}]},
      "mark": {"type": "point", "shape": "M0,0L-0.45,1L0.45,1Z", "size": 1444, "filled": true, "color": "#3D78F2", "opacity": 1, "angle": 180},
      "encoding": {
        "x": {"field": "I", "type": "quantitative"},
        "y": {"field": "E", "type": "quantitative"}
      }
    },
    {
      "data": {"name": "arrows"},
      "mark": {"type": "rule", "color": "#000000", "strokeWidth": 3.5},
      "encoding": {
        "x": {"field": "I", "type": "quantitative"},
        "x2": {"field": "I2"},
        "y": {"field": "E", "type": "quantitative"},
        "y2": {"field": "E2"}
      }
    },
    {
      "data": {"name": "arrows"},
      "transform": [{"filter": "datum.k == '1'"}],
      "mark": {"type": "point", "shape": "M0,0L-0.38,1L0.38,1Z", "size": 2304, "filled": true, "color": "#000000", "opacity": 1, "angle": 288},
      "encoding": {"x": {"field": "It", "type": "quantitative"}, "y": {"field": "Et", "type": "quantitative"}}
    },
    {
      "data": {"name": "arrows"},
      "transform": [{"filter": "datum.k == '2'"}],
      "mark": {"type": "point", "shape": "M0,0L-0.38,1L0.38,1Z", "size": 2304, "filled": true, "color": "#000000", "opacity": 1, "angle": 333},
      "encoding": {"x": {"field": "It", "type": "quantitative"}, "y": {"field": "Et", "type": "quantitative"}}
    },
    {
      "data": {"name": "arrows"},
      "transform": [{"filter": "datum.k == '3'"}],
      "mark": {"type": "point", "shape": "M0,0L-0.38,1L0.38,1Z", "size": 2304, "filled": true, "color": "#000000", "opacity": 1, "angle": 158},
      "encoding": {"x": {"field": "It", "type": "quantitative"}, "y": {"field": "Et", "type": "quantitative"}}
    },
    {
      "data": {"name": "arrows"},
      "transform": [{"filter": "datum.k == '4'"}],
      "mark": {"type": "point", "shape": "M0,0L-0.38,1L0.38,1Z", "size": 2304, "filled": true, "color": "#000000", "opacity": 1, "angle": 110},
      "encoding": {"x": {"field": "It", "type": "quantitative"}, "y": {"field": "Et", "type": "quantitative"}}
    },
    {
      "data": {"values": [
        {"t": "E, V", "I": 1.45e-9, "E": 0.514},
        {"t": "I", "I": 8.91e-4, "E": -0.3495},
        {"t": ", m A", "I": 1.66e-3, "E": -0.3495}
      ]},
      "mark": {"type": "text", "font": "Open Sans", "fontWeight": "bold", "fontSize": 32, "align": "left", "baseline": "alphabetic", "color": "#000000"},
      "encoding": {
        "x": {"field": "I", "type": "quantitative"},
        "y": {"field": "E", "type": "quantitative"},
        "text": {"field": "t"}
      }
    },
    {
      "data": {"values": [{"t": "corr", "I": 1.012e-3, "E": -0.3495}]},
      "mark": {"type": "text", "font": "Open Sans", "fontWeight": "bold", "fontSize": 19, "align": "left", "baseline": "alphabetic", "color": "#000000"},
      "encoding": {
        "x": {"field": "I", "type": "quantitative"},
        "y": {"field": "E", "type": "quantitative"},
        "text": {"field": "t"}
      }
    },
    {
      "data": {"values": [
        {"t": "4", "I": 7.78e-7, "E": 0.4975},
        {"t": "3", "I": 1.33e-7, "E": 0.3446},
        {"t": "2", "I": 7.65e-5, "E": -0.2639},
        {"t": "1", "I": 1.33e-7, "E": -0.3404}
      ]},
      "mark": {"type": "text", "font": "Open Sans", "fontWeight": "bold", "fontSize": 32, "align": "center", "baseline": "alphabetic", "color": "#000000"},
      "encoding": {
        "x": {"field": "I", "type": "quantitative"},
        "y": {"field": "E", "type": "quantitative"},
        "text": {"field": "t"}
      }
    },
    {
      "data": {"values": [
        {"t": "The range of", "I": 3.44e-9, "E": 0.0404},
        {"t": "passive state", "I": 3.39e-9, "E": -0.030}
      ]},
      "mark": {"type": "text", "font": "Open Sans", "fontWeight": "bold", "fontSize": 32, "align": "left", "baseline": "alphabetic", "color": "#000000"},
      "encoding": {
        "x": {"field": "I", "type": "quantitative"},
        "y": {"field": "E", "type": "quantitative"},
        "text": {"field": "t"}
      }
    }
  ]
}
